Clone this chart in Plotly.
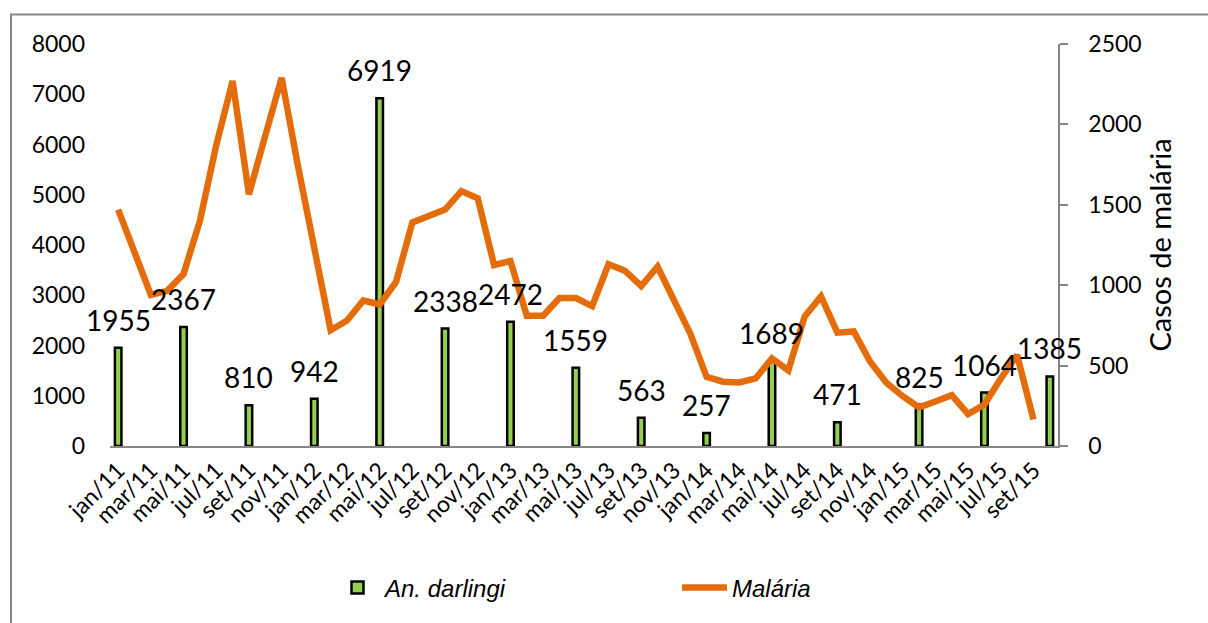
import plotly.graph_objects as go

# Monthly categories, jan/11 .. out/15
month_names = ["jan", "fev", "mar", "abr", "mai", "jun", "jul", "ago", "set", "out", "nov", "dez"]
categories = [f"{m}/{y}" for y in ["11", "12", "13", "14", "15"] for m in month_names][:58]
tick_labels = categories[:57:2]

# An. darlingi collections
bar_months = ["jan/11", "mai/11", "set/11", "jan/12", "mai/12", "set/12", "jan/13", "mai/13",
              "set/13", "jan/14", "mai/14", "set/14", "fev/15", "jun/15", "out/15"]
darlingi = [1955, 2367, 810, 942, 6919, 2338, 2472, 1559, 563, 257, 1689, 471, 825, 1064, 1385]

# Monthly malaria cases, jan/11 .. set/15
malaria = [1470, 1210, 940, 965, 1070, 1400, 1870, 2270, 1565, 1930,
           2290, 1740, 1220, 720, 780, 905, 880, 1020, 1390, 1430,
           1470, 1585, 1540, 1125, 1150, 810, 810, 920, 920, 870,
           1130, 1090, 995, 1115, 900, 700, 430, 400, 395, 420,
           545, 470, 805, 930, 705, 712, 525, 393, 310, 240,
           277, 316, 198, 258, 420, 565, 165]
malaria_months = categories[:len(malaria)]

FONT = "Lato, 'Open Sans', sans-serif"
GREY = "#868686"

W, H = 1208, 623
L, R, T, B = 110, 150, 44, 171
pw, ph = W - L - R, H - T - B


def px_x(p):
    return (p - L) / pw


def px_y(p):
    return (H - B - p) / ph


fig = go.Figure()

fig.add_trace(go.Bar(
    x=bar_months, y=darlingi, name="<i>An. darlingi</i>",
    width=0.4,
    marker=dict(color="#92D050", line=dict(color="#000000", width=2.5)),
    cliponaxis=False,
))

fig.add_trace(go.Scatter(
    x=malaria_months, y=malaria, name="<i>Malária</i>", yaxis="y2",
    mode="lines", line=dict(color="#E46C0A", width=6.5),
))

# value labels above each bar, drawn on top of the line
bar_labels = [
    dict(x=m, y=v, xref="x", yref="y", text=str(v), showarrow=False,
         yanchor="bottom", yshift=9, font=dict(family=FONT, size=28, color="#000000"))
    for m, v in zip(bar_months, darlingi)
]

fig.update_layout(
    width=W, height=H,
    margin=dict(l=L, r=R, t=T, b=B),
    paper_bgcolor="white", plot_bgcolor="white",
    font=dict(family=FONT, size=24, color="#000000"),
    showlegend=True,
    legend=dict(
        orientation="h", x=px_x(330), xanchor="left", y=px_y(596), yanchor="middle",
        entrywidth=287, entrywidthmode="pixels",
        font=dict(family="'Liberation Sans Narrow', 'Liberation Sans', sans-serif", size=24),
        itemwidth=45, bgcolor="rgba(0,0,0,0)",
    ),
    bargap=0.5,
    annotations=bar_labels,
    xaxis=dict(
        type="category", categoryorder="array", categoryarray=categories,
        range=[-0.5, len(categories) - 0.5],
        tickmode="array", tickvals=tick_labels, ticktext=tick_labels,
        tickangle=-45, tickfont=dict(size=23), ticks="",
        showline=True, linecolor=GREY, linewidth=1.5, showgrid=False, zeroline=False,
    ),
    yaxis=dict(
        range=[0, 8000], dtick=1000, showgrid=False, zeroline=False, showline=False,
        tickfont=dict(size=23), ticks="", ticklabelstandoff=24,
    ),
    yaxis2=dict(
        overlaying="y", side="right", anchor="x",
        range=[0, 2500], dtick=500, showgrid=False, zeroline=False,
        showline=True, linecolor=GREY, linewidth=1.5,
        ticks="outside", ticklen=8, tickcolor=GREY, tickwidth=1.5,
        tickfont=dict(size=23), ticklabelstandoff=16,
        title=dict(text="Casos de malária", font=dict(size=29), standoff=10),
    ),
    yaxis3=dict(
        overlaying="y", side="right", anchor="x",
        range=[0, 2500], dtick=500, showgrid=False, zeroline=False, showline=False,
        ticks="inside", ticklen=8, tickcolor=GREY, tickwidth=1.5, showticklabels=False,
    ),
    shapes=[dict(
        type="rect", xref="paper", yref="paper",
        x0=px_x(11), x1=px_x(1215), y0=px_y(14), y1=px_y(640),
        line=dict(color=GREY, width=2), fillcolor="rgba(0,0,0,0)", layer="below",
    )],
)

fig.write_html("out.html")
